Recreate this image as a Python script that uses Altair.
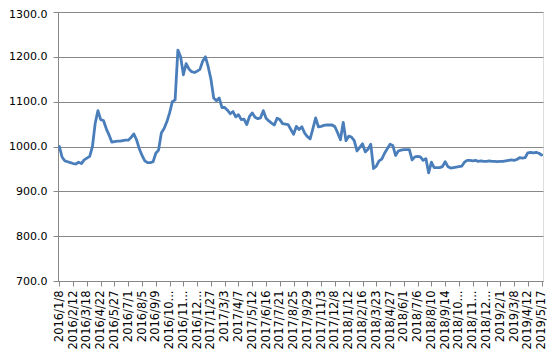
import altair as alt
import pandas as pd

# weekly values, one list per calendar year
values_2016 = [1000, 976, 968, 966, 964, 962, 961, 965, 962, 970,
               974, 978, 1000, 1052, 1080, 1060, 1058, 1040, 1026, 1010,
               1011, 1012, 1012, 1013, 1014, 1014, 1020, 1028, 1015, 995,
               980, 968, 964, 964, 966, 985, 992, 1030, 1040, 1055,
               1075, 1100, 1104, 1215, 1200, 1160, 1185, 1173, 1167, 1165,
               1168, 1172]
values_2017 = [1190, 1200, 1178, 1150, 1108, 1102, 1108, 1087, 1087, 1081,
               1073, 1078, 1066, 1071, 1060, 1061, 1049, 1067, 1075, 1065,
               1062, 1064, 1080, 1063, 1057, 1052, 1048, 1063, 1060, 1051,
               1050, 1049, 1038, 1027, 1045, 1038, 1044, 1030, 1022, 1017,
               1040, 1064, 1044, 1045, 1047, 1048, 1048, 1048, 1044, 1030,
               1015, 1054]
values_2018 = [1013, 1023, 1021, 1013, 990, 998, 1006, 988, 994, 1005,
               951, 956, 968, 972, 985, 995, 1005, 1002, 980, 990,
               992, 993, 993, 993, 970, 977, 978, 977, 969, 973,
               941, 965, 953, 953, 953, 955, 966, 955, 952, 953,
               954, 955, 956, 965, 969, 969, 968, 969, 967, 968,
               967, 967]
values_2019 = [968, 967, 967, 966, 967, 967, 968, 969, 970, 969,
               971, 975, 974, 975, 986, 987, 986, 987, 985, 981]

values = values_2016 + values_2017 + values_2018 + values_2019
weeks = pd.date_range("2016-01-08", periods=len(values), freq="7D")
dates = [f"{d.year}/{d.month}/{d.day}" for d in weeks]
label_dates = dates[::5]
y_ticks = [700, 800, 900, 1000, 1100, 1200, 1300]

df = pd.DataFrame({"date": dates, "value": values})

grey = "#888888"
font = "DejaVu Sans"

chart = alt.Chart(df).mark_line(
    color="#4A7EBB", strokeWidth=2.8, strokeJoin="round", strokeCap="round"
).encode(
    x=alt.X(
        "date:O",
        sort=None,
        scale=alt.Scale(type="point", padding=0.5),
        axis=alt.Axis(
            title=None,
            values=label_dates,
            labelAngle=-90,
            labelOverlap=False,
            labelExpr="length(datum.label) > 9 ? slice(datum.label, 0, 7) + '...' : datum.label",
            labelFont=font,
            labelFontSize=11.5,
            labelColor="#000000",
            labelPadding=4,
            tickSize=5,
            tickColor=grey,
            domainColor=grey,
            grid=False,
        ),
    ),
    y=alt.Y(
        "value:Q",
        scale=alt.Scale(domain=[700, 1300], nice=False, zero=False),
        axis=alt.Axis(
            title=None,
            values=y_ticks,
            format=".1f",
            labelFont=font,
            labelFontSize=11,
            labelColor="#000000",
            labelPadding=6,
            labelOffset={"condition": {"test": "datum.value == 1300", "value": 2.5}, "value": 0},
            tickSize=5,
            tickColor=grey,
            domainColor=grey,
            gridColor=grey,
            gridWidth=1,
        ),
    ),
).properties(
    width=485,
    height=269,
    autosize=alt.AutoSizeParams(type="none"),
    padding={"left": 50, "top": 4, "right": 4, "bottom": 70},
).configure_view(
    stroke=None
).configure(
    background="white"
)

chart.save("out.html", embed_options={"renderer": "svg", "actions": False})
